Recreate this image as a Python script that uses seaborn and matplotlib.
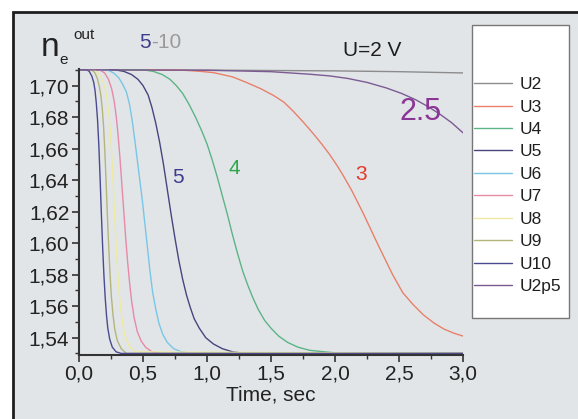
import matplotlib
matplotlib.use("Agg")
import pandas as pd
import seaborn as sns
from matplotlib import pyplot as plt
from matplotlib.patches import Rectangle
from matplotlib.ticker import MultipleLocator

# curves: time (s) and n_e^out
u2_t = [0, 1.0, 2.0, 2.5, 3.0]
u2_n = [1.710, 1.7098, 1.7093, 1.7088, 1.708]
u3_t = [0, 0.80, 0.95, 1.05, 1.20, 1.31, 1.42, 1.52, 1.60, 1.67, 1.75, 1.83, 1.90, 1.96, 2.01, 2.06,
        2.13, 2.22, 2.33, 2.45, 2.53, 2.61, 2.69, 2.77, 2.85, 2.93, 3.0]
u3_n = [1.710, 1.7098, 1.709, 1.7082, 1.7055, 1.7019, 1.698, 1.6937, 1.6895, 1.684, 1.677, 1.6695,
        1.6625, 1.656, 1.650, 1.6435, 1.6335, 1.619, 1.600, 1.580, 1.5685, 1.561, 1.5545, 1.5495,
        1.5455, 1.5428, 1.541]
u4_t = [0, 0.50, 0.58, 0.65, 0.71, 0.76, 0.81, 0.86, 0.91, 0.96, 1.00, 1.04, 1.08, 1.12, 1.16, 1.20,
        1.24, 1.28, 1.32, 1.36, 1.40, 1.45, 1.50, 1.56, 1.63, 1.71, 1.80, 1.92, 2.05, 3.0]
u4_n = [1.710, 1.710, 1.709, 1.707, 1.704, 1.700, 1.695, 1.688, 1.680, 1.671, 1.663, 1.653, 1.642,
        1.630, 1.618, 1.605, 1.593, 1.582, 1.573, 1.565, 1.558, 1.551, 1.546, 1.541, 1.537, 1.534,
        1.532, 1.531, 1.530, 1.530]
u5_t = [0, 0.28, 0.35, 0.41, 0.46, 0.50, 0.54, 0.57, 0.60, 0.63, 0.66, 0.69, 0.72, 0.75, 0.78, 0.81,
        0.84, 0.87, 0.90, 0.94, 0.99, 1.05, 1.12, 1.20, 1.30, 3.0]
u5_n = [1.710, 1.710, 1.709, 1.707, 1.704, 1.700, 1.694, 1.686, 1.676, 1.664, 1.650, 1.634, 1.618,
        1.603, 1.589, 1.577, 1.567, 1.559, 1.552, 1.546, 1.540, 1.536, 1.533, 1.531, 1.530, 1.530]
u6_t = [0, 0.22, 0.27, 0.31, 0.34, 0.37, 0.395, 0.415, 0.435, 0.455, 0.475, 0.495, 0.515, 0.535,
        0.555, 0.575, 0.60, 0.625, 0.655, 0.69, 0.74, 0.80, 0.88, 3.0]
u6_n = [1.710, 1.710, 1.708, 1.705, 1.701, 1.696, 1.688, 1.678, 1.666, 1.653, 1.640, 1.627, 1.612,
        1.597, 1.582, 1.569, 1.558, 1.549, 1.542, 1.537, 1.533, 1.531, 1.530, 1.530]
u7_t = [0, 0.16, 0.20, 0.23, 0.255, 0.275, 0.29, 0.305, 0.32, 0.335, 0.35, 0.365, 0.38, 0.395, 0.41,
        0.43, 0.455, 0.485, 0.52, 0.57, 0.64, 3.0]
u7_n = [1.710, 1.710, 1.708, 1.704, 1.698, 1.690, 1.681, 1.669, 1.654, 1.637, 1.620, 1.603, 1.588,
        1.575, 1.564, 1.553, 1.544, 1.538, 1.534, 1.531, 1.530, 1.530]
u8_t = [0, 0.12, 0.16, 0.19, 0.21, 0.225, 0.238, 0.25, 0.26, 0.27, 0.28, 0.29, 0.30, 0.312, 0.325,
        0.34, 0.36, 0.39, 0.43, 3.0]
u8_n = [1.710, 1.710, 1.707, 1.702, 1.696, 1.688, 1.678, 1.664, 1.649, 1.632, 1.615, 1.599, 1.585,
        1.571, 1.559, 1.549, 1.541, 1.535, 1.531, 1.530]
u9_t = [0, 0.10, 0.125, 0.145, 0.16, 0.172, 0.182, 0.192, 0.202, 0.212, 0.222, 0.232, 0.242, 0.252,
        0.265, 0.28, 0.30, 0.33, 0.37, 3.0]
u9_n = [1.710, 1.710, 1.708, 1.704, 1.699, 1.693, 1.685, 1.674, 1.658, 1.638, 1.617, 1.598, 1.581,
        1.567, 1.555, 1.545, 1.538, 1.533, 1.530, 1.530]
u10_t = [0, 0.06, 0.08, 0.10, 0.115, 0.125, 0.135, 0.145, 0.155, 0.165, 0.175, 0.185, 0.195, 0.205,
         0.215, 0.225, 0.24, 0.26, 0.29, 0.33, 3.0]
u10_n = [1.710, 1.710, 1.709, 1.706, 1.702, 1.697, 1.689, 1.678, 1.662, 1.641, 1.618, 1.597, 1.579,
         1.565, 1.554, 1.546, 1.539, 1.534, 1.531, 1.530, 1.530]
u2p5_t = [0, 1.0, 1.5, 1.8, 1.96, 2.1, 2.25, 2.4, 2.52, 2.63, 2.73, 2.82, 2.91, 3.0]
u2p5_n = [1.710, 1.7097, 1.7088, 1.7072, 1.7061, 1.7045, 1.7020, 1.6985, 1.6950, 1.6910, 1.6865,
          1.6818, 1.6765, 1.670]

names = ["U2", "U3", "U4", "U5", "U6", "U7", "U8", "U9", "U10", "U2p5"]
series = [(u2_t, u2_n), (u3_t, u3_n), (u4_t, u4_n), (u5_t, u5_n), (u6_t, u6_n),
          (u7_t, u7_n), (u8_t, u8_n), (u9_t, u9_n), (u10_t, u10_n), (u2p5_t, u2p5_n)]
colors = ["#8c8c8c", "#e8806a", "#5cb486", "#46467e", "#78c6e6",
          "#e68aa6", "#eeeaa0", "#b4b47c", "#4a4a90", "#7c5a92"]

xticks = [0.0, 0.5, 1.0, 1.5, 2.0, 2.5, 3.0]
xlabels = ["0,0", "0,5", "1,0", "1,5", "2,0", "2,5", "3,0"]
yticks = [1.54, 1.56, 1.58, 1.60, 1.62, 1.64, 1.66, 1.68, 1.70]
ylabels = ["1,54", "1,56", "1,58", "1,60", "1,62", "1,64", "1,66", "1,68", "1,70"]

rows = []
for name, (ts, ns) in zip(names, series):
    for t, n in zip(ts, ns):
        rows.append({"curve": name, "t": t, "n": n})
df = pd.DataFrame(rows)

sns.set_theme(style="ticks")
plt.rcParams["font.family"] = ["Liberation Sans", "DejaVu Sans"]

W, H = 578, 419
fig = plt.figure(figsize=(W / 100, H / 100), dpi=100, facecolor="white")
fig.patches.append(Rectangle((13 / W, -0.05), 1.1, (H - 12) / H + 0.05, transform=fig.transFigure,
                             facecolor="#e2e5e8", edgecolor="#1e1e1e", lw=2, zorder=-1))

ax = fig.add_axes([79 / W, (H - 355) / H, 384 / W, 286 / H])
ax.patch.set_alpha(0)
sns.lineplot(data=df, x="t", y="n", hue="curve", hue_order=names, palette=dict(zip(names, colors)),
             lw=1.0, estimator=None, legend=False, ax=ax)

ax.set_xlim(0, 3.0)
ax.set_ylim(1.529, 1.7105)
ax.set_xticks(xticks)
ax.set_xticklabels(xlabels)
ax.set_yticks(yticks)
ax.set_yticklabels(ylabels)
ax.xaxis.set_minor_locator(MultipleLocator(0.25))
ax.yaxis.set_minor_locator(MultipleLocator(0.01))
ax.tick_params(which="major", direction="out", length=5, width=1.2, color="#333333",
               labelsize=15, labelcolor="#222222", pad=2)
ax.tick_params(which="minor", direction="out", length=3, width=1.0, color="#333333")
sns.despine(ax=ax)
for s in ["left", "bottom"]:
    ax.spines[s].set_color("#333333")
    ax.spines[s].set_linewidth(1.5)
ax.set_xlabel("Time, sec", fontsize=15, color="#222222", labelpad=1)
ax.set_ylabel("")

# axis title n_e^out
fig.text(41 / W, 1 - 56 / H, "n", fontsize=24, color="#222222", ha="left", va="baseline")
fig.text(59 / W, 1 - 64 / H, "e", fontsize=11, color="#222222", ha="left", va="baseline")
fig.text(73 / W, 1 - 39 / H, "out", fontsize=11, color="#222222", ha="left", va="baseline")

# annotations
fig.text(139 / W, 1 - 42 / H, "5", fontsize=15, color="#3c3c8c", ha="left", va="center")
fig.text(151 / W, 1 - 42 / H, "-10", fontsize=15, color="#9a9a9a", ha="left", va="center")
fig.text(372 / W, 1 - 50 / H, "U=2 V", fontsize=15, color="#1e1e1e", ha="center", va="center")
ax.text(0.77, 1.6418, "5", fontsize=15, color="#3c3c8c", ha="center", va="center")
ax.text(1.21, 1.6475, "4", fontsize=15, color="#2aa84a", ha="center", va="center")
ax.text(2.20, 1.6437, "3", fontsize=15, color="#e5382a", ha="center", va="center")
ax.text(2.67, 1.683, "2.5", fontsize=22, color="#8b3596", ha="center", va="center")

# legend box
fig.patches.append(Rectangle((472 / W, 1 - 318 / H), 97 / W, 293 / H, transform=fig.transFigure,
                             facecolor="white", edgecolor="#777777", lw=1, zorder=1))
fig.legend(ax.lines[:len(names)], names, loc="upper left", bbox_to_anchor=(474 / W, 1 - 77 / H),
           frameon=False, fontsize=12.5, handlelength=2.2, handletextpad=0.4,
           labelspacing=0.42, borderpad=0, borderaxespad=0, labelcolor="#1e1e1e")

fig.savefig("out.png", dpi=100, facecolor=fig.get_facecolor())
